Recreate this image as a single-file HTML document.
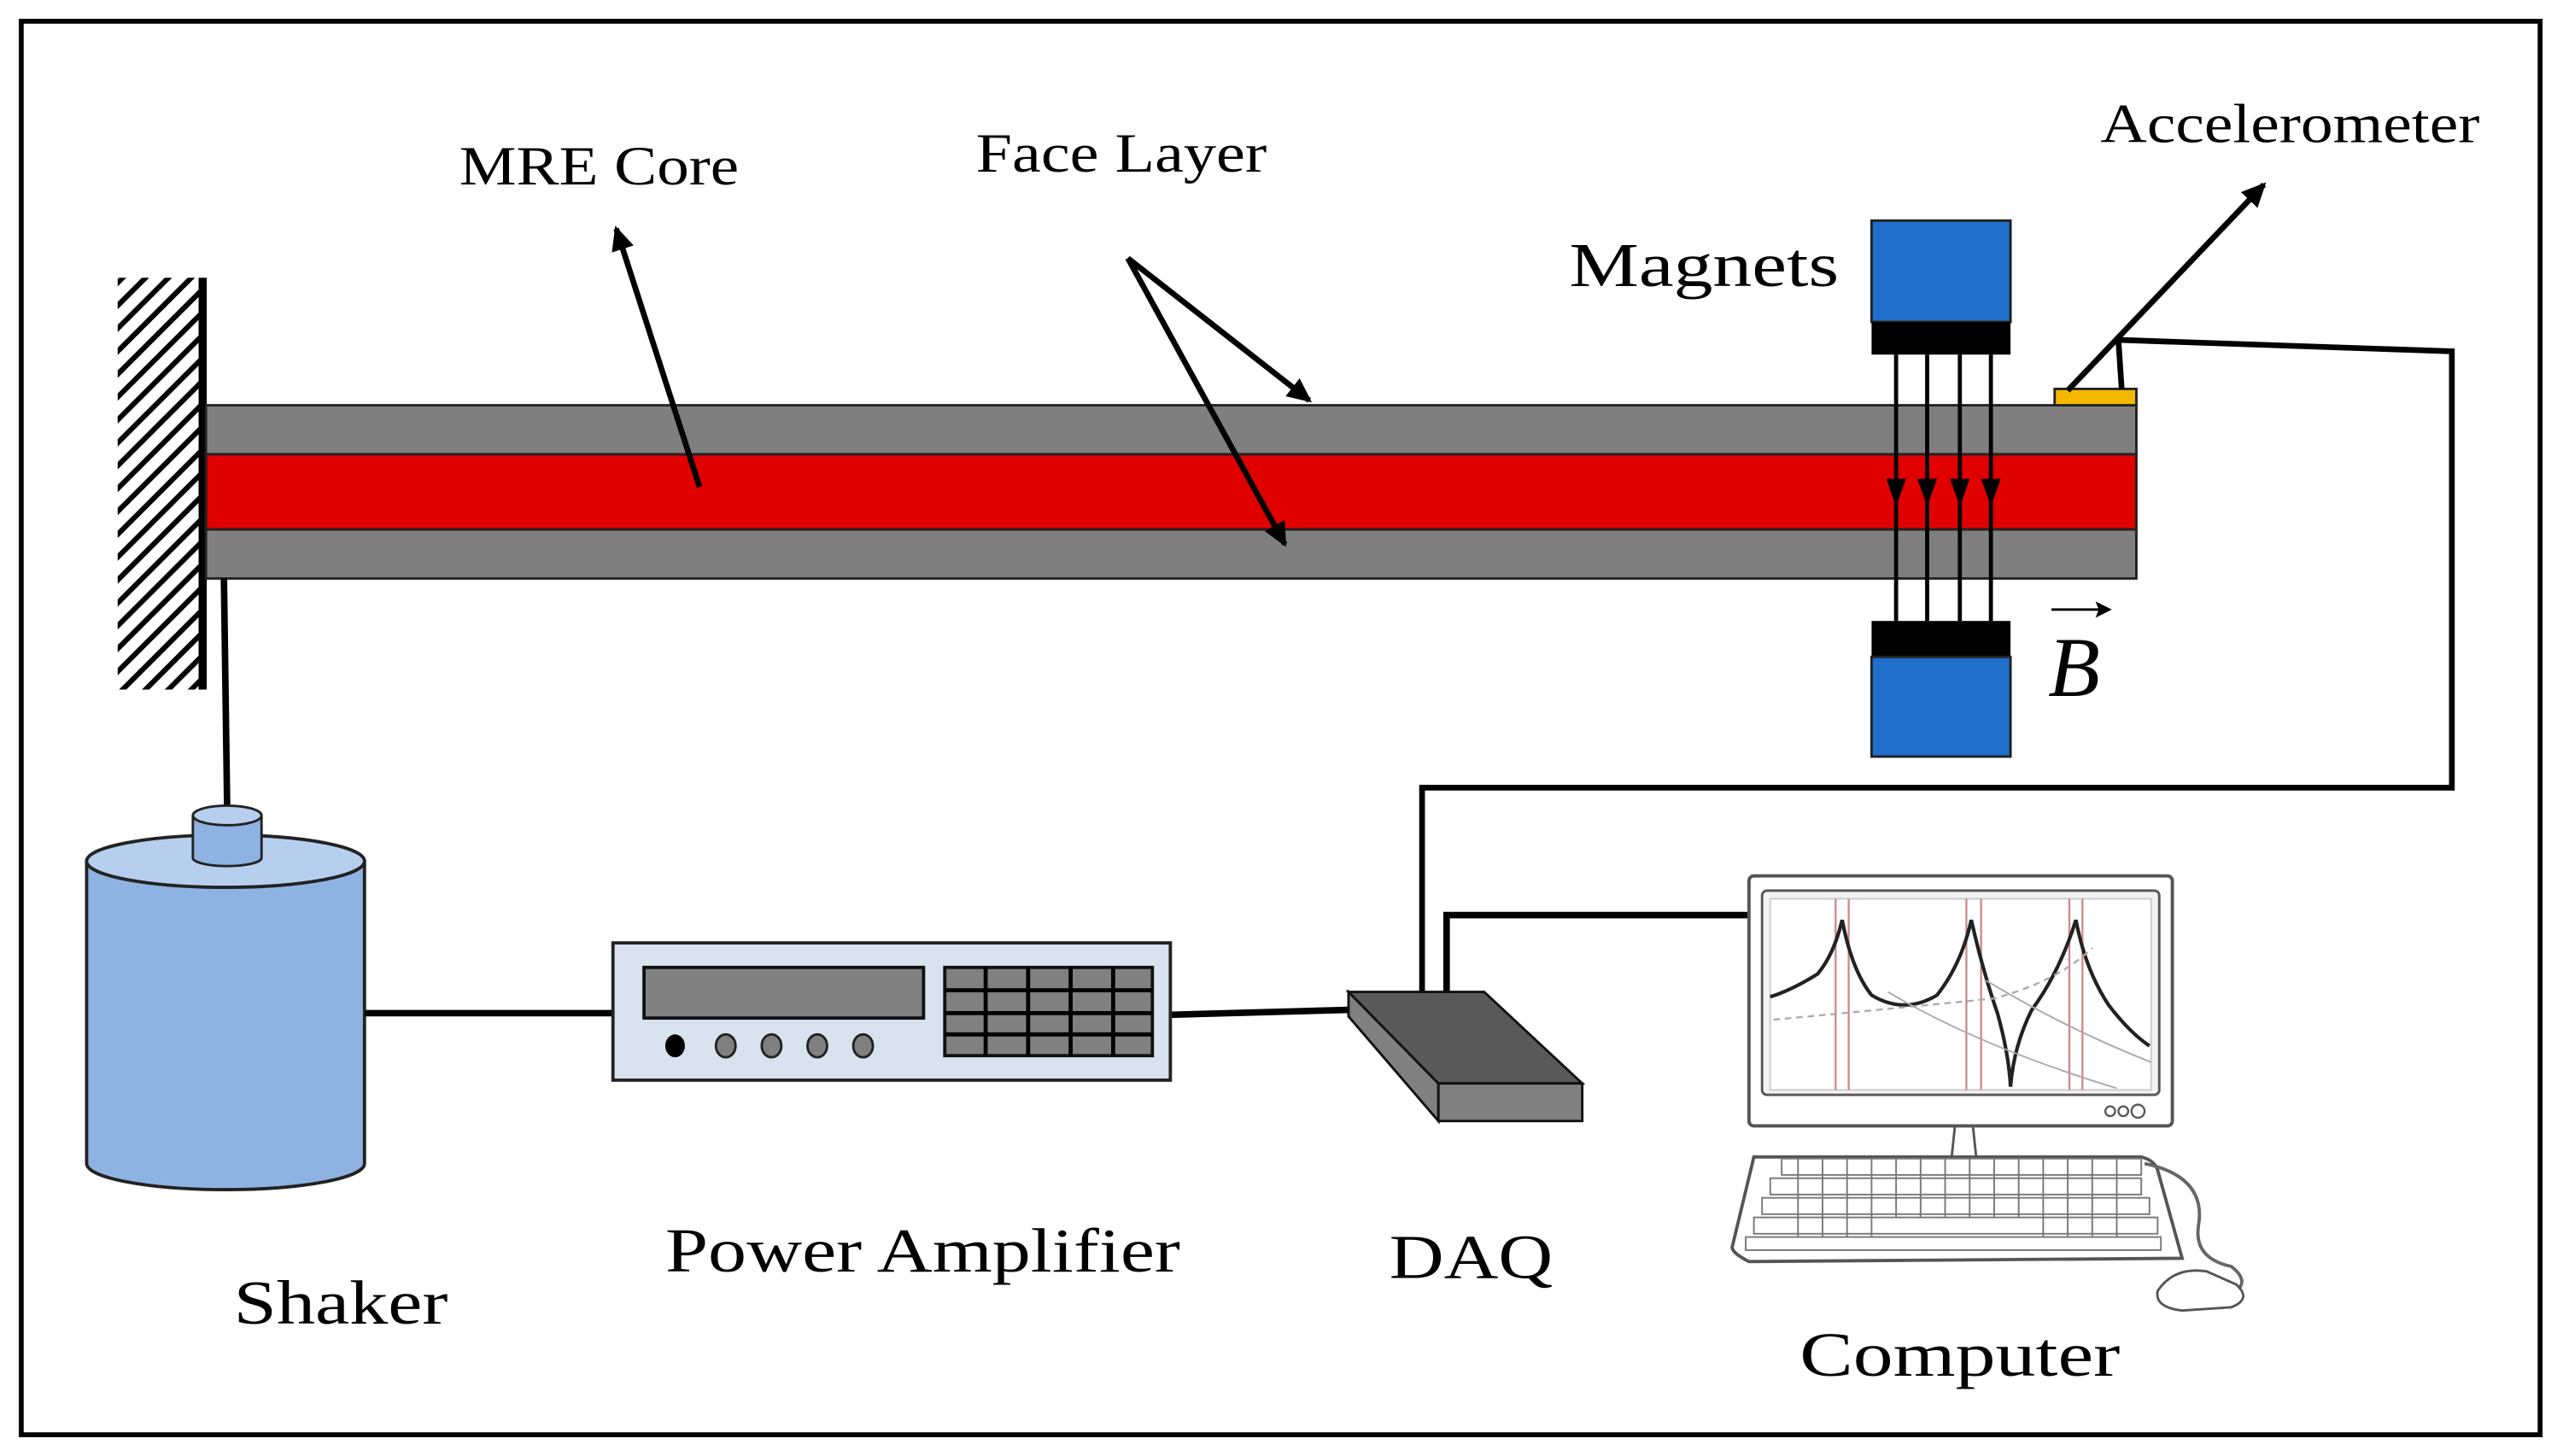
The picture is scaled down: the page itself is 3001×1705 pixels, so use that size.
<!DOCTYPE html>
<html><head><style>html,body{margin:0;padding:0;background:#fff}svg{display:block}</style></head>
<body>
<svg width="3001" height="1705" viewBox="0 0 1568 891" preserveAspectRatio="none" xmlns="http://www.w3.org/2000/svg" font-family="Liberation Serif, serif">
<defs>
<marker id="ah" markerWidth="10" markerHeight="10" refX="8" refY="5" orient="auto" markerUnits="userSpaceOnUse">
<path d="M0,0 L10,5 L0,10 L2,5 z" fill="#000"/></marker>
<marker id="ahs" markerWidth="16" markerHeight="16" refX="13" refY="8" orient="auto" markerUnits="userSpaceOnUse">
<path d="M0,1 L15,8 L0,15 z" fill="#000"/></marker>
<clipPath id="wall"><rect x="72" y="170" width="53" height="252"/></clipPath>
</defs>
<rect x="0" y="0" width="1568" height="891" fill="#fff"/>
<rect x="13" y="13" width="1541" height="865" fill="none" stroke="#000" stroke-width="3"/>

<!-- wall -->
<g clip-path="url(#wall)" stroke="#000" stroke-width="3.2">
<path d="M60,185 L130,115 M60,199 L130,129 M60,213 L130,143 M60,227 L130,157 M60,241 L130,171 M60,255 L130,185 M60,269 L130,199 M60,283 L130,213 M60,297 L130,227 M60,311 L130,241 M60,325 L130,255 M60,339 L130,269 M60,353 L130,283 M60,367 L130,297 M60,381 L130,311 M60,395 L130,325 M60,409 L130,339 M60,423 L130,353 M60,437 L130,367 M60,451 L130,381 M60,465 L130,395 M60,479 L130,409"/>
</g>
<line x1="124" y1="170" x2="124" y2="422" stroke="#000" stroke-width="5"/>

<!-- beam -->
<rect x="126" y="248" width="1181" height="30" fill="#7f7f7f" stroke="#222" stroke-width="1.5"/>
<rect x="126" y="278" width="1181" height="46" fill="#e00000" stroke="#222" stroke-width="1.5"/>
<rect x="126" y="324" width="1181" height="30" fill="#7f7f7f" stroke="#222" stroke-width="1.5"/>

<!-- magnets -->
<rect x="1145" y="135" width="85" height="62" fill="#1f6fcb" stroke="#222" stroke-width="1.5"/>
<rect x="1145" y="197" width="85" height="20" fill="#000"/>
<rect x="1145" y="380" width="85" height="22" fill="#000"/>
<rect x="1145" y="402" width="85" height="61" fill="#1f6fcb" stroke="#222" stroke-width="1.5"/>
<g stroke="#000" stroke-width="2.5">
<line x1="1160" y1="217" x2="1160" y2="380"/><line x1="1179" y1="217" x2="1179" y2="380"/>
<line x1="1199" y1="217" x2="1199" y2="380"/><line x1="1218" y1="217" x2="1218" y2="380"/>
</g>
<g fill="#000">
<path d="M1154,293 L1166,293 L1160,310z"/><path d="M1173,293 L1185,293 L1179,310z"/>
<path d="M1193,293 L1205,293 L1199,310z"/><path d="M1212,293 L1224,293 L1218,310z"/>
</g>

<!-- accelerometer -->
<rect x="1257" y="238" width="50" height="10" fill="#f5b800" stroke="#222" stroke-width="1.5"/>
<polyline points="1298,238 1296,208 1500,215 1500,482 870,482 870,607" fill="none" stroke="#000" stroke-width="3.5"/>
<line x1="1265" y1="239" x2="1385" y2="113" stroke="#000" stroke-width="3.5" marker-end="url(#ahs)"/>

<!-- arrows -->
<line x1="428" y1="298" x2="377" y2="140" stroke="#000" stroke-width="3.5" marker-end="url(#ahs)"/>
<line x1="690" y1="158" x2="801" y2="245" stroke="#000" stroke-width="3.5" marker-end="url(#ahs)"/>
<line x1="690" y1="158" x2="786" y2="333" stroke="#000" stroke-width="3.5" marker-end="url(#ahs)"/>

<!-- shaker -->
<line x1="137" y1="354" x2="139" y2="497" stroke="#000" stroke-width="4"/>
<path d="M53,527 L53,712 A85,16 0 0 0 223,712 L223,527 z" fill="#8eb3e3" stroke="#222" stroke-width="2"/>
<ellipse cx="138" cy="527" rx="85" ry="16" fill="#b7cfee" stroke="#222" stroke-width="2"/>
<path d="M118,500 L118,525 A21,5 0 0 0 160,525 L160,500z" fill="#8eb3e3" stroke="#222" stroke-width="1.5"/>
<ellipse cx="139" cy="499" rx="21" ry="6" fill="#b7cfee" stroke="#222" stroke-width="1.5"/>

<!-- wires -->
<line x1="223" y1="620" x2="375" y2="620" stroke="#000" stroke-width="4"/>
<line x1="716" y1="621" x2="825" y2="618" stroke="#000" stroke-width="4"/>
<polyline points="885,607 885,560 1070,560" fill="none" stroke="#000" stroke-width="4"/>

<!-- amplifier -->
<rect x="375" y="577" width="341" height="84" fill="#d9e3ef" stroke="#222" stroke-width="2"/>
<rect x="394" y="592" width="171" height="31" fill="#808080" stroke="#111" stroke-width="2"/>
<rect x="578" y="592" width="127" height="54" fill="#808080" stroke="#111" stroke-width="2"/>
<g stroke="#000" stroke-width="2.5">
<line x1="603" y1="592" x2="603" y2="646"/><line x1="629" y1="592" x2="629" y2="646"/>
<line x1="655" y1="592" x2="655" y2="646"/><line x1="681" y1="592" x2="681" y2="646"/>
<line x1="578" y1="606" x2="705" y2="606"/><line x1="578" y1="620" x2="705" y2="620"/><line x1="578" y1="633" x2="705" y2="633"/>
</g>
<ellipse cx="413" cy="640" rx="6" ry="7" fill="#000"/>
<g fill="#808080" stroke="#222" stroke-width="1.5">
<ellipse cx="444" cy="640" rx="6" ry="7"/><ellipse cx="472" cy="640" rx="6" ry="7"/>
<ellipse cx="500" cy="640" rx="6" ry="7"/><ellipse cx="528" cy="640" rx="6" ry="7"/></g>

<!-- DAQ -->
<path d="M825,607 L825,622 L880,686 L880,663 z" fill="#808080" stroke="#111" stroke-width="1.5"/>
<path d="M825,607 L908,607 L968,663 L880,663 z" fill="#595959" stroke="#111" stroke-width="1.5"/>
<rect x="880" y="663" width="88" height="23" fill="#808080" stroke="#111" stroke-width="1.5"/>

<!-- computer -->
<rect x="1070" y="536" width="259" height="153" rx="3" fill="#fff" stroke="#555" stroke-width="2"/>
<rect x="1078" y="545" width="243" height="125" rx="3" fill="#f2f2f2" stroke="#555" stroke-width="1.5"/>
<rect x="1083" y="550" width="233" height="117" fill="#fff" stroke="#ccc" stroke-width="1"/>
<g stroke="#c88" stroke-width="1.2">
<line x1="1123" y1="550" x2="1123" y2="667"/><line x1="1131" y1="550" x2="1131" y2="667"/>
<line x1="1203" y1="550" x2="1203" y2="667"/><line x1="1212" y1="550" x2="1212" y2="667"/>
<line x1="1266" y1="550" x2="1266" y2="667"/><line x1="1274" y1="550" x2="1274" y2="667"/>
</g>
<path d="M1083,610 Q1096,606 1112,596 Q1122,584 1127,563 Q1133,594 1145,609 Q1165,621 1185,609 Q1200,590 1206,563 Q1213,594 1222,620 Q1229,645 1230,665 Q1232,640 1243,618 Q1260,595 1270,563 Q1276,594 1290,615 Q1303,632 1315,640" fill="none" stroke="#222" stroke-width="2.2"/>
<path d="M1085,624 Q1150,618 1220,611 Q1260,600 1280,580" fill="none" stroke="#aaa" stroke-width="1.2" stroke-dasharray="4 3"/>
<path d="M1155,607 Q1210,640 1295,666 M1215,600 Q1265,630 1316,650" fill="none" stroke="#aaa" stroke-width="1"/>
<g fill="none" stroke="#555" stroke-width="1.2"><circle cx="1291" cy="680" r="3"/><circle cx="1299" cy="680" r="3"/><circle cx="1308" cy="680" r="4"/></g>
<path d="M1196,689 L1194,708 M1207,689 L1209,708" stroke="#555" stroke-width="1.5"/>
<path d="M1073,708 L1310,708 Q1318,710 1320,716 L1335,770 L1070,772 Q1058,766 1060,762 z" fill="#fff" stroke="#555" stroke-width="2"/>
<g fill="#fff" stroke="#777" stroke-width="1">
<rect x="1090" y="709" width="220" height="10"/><rect x="1083" y="721" width="227" height="10"/>
<rect x="1078" y="733" width="237" height="10"/><rect x="1073" y="745" width="247" height="10"/><rect x="1068" y="757" width="254" height="8"/>
</g>
<g stroke="#777" stroke-width="1">
<path d="M1100,709 v48 M1115,709 v48 M1130,709 v48 M1145,709 v48 M1160,709 v36 M1175,709 v36 M1190,709 v36 M1205,709 v36 M1220,709 v36 M1235,709 v36 M1250,709 v48 M1265,709 v48 M1280,709 v48 M1295,709 v48"/>
</g>
<path d="M1312,712 Q1350,720 1345,750 Q1342,770 1365,775 Q1378,785 1365,792" fill="none" stroke="#666" stroke-width="2"/>
<path d="M1320,790 Q1330,775 1350,778 L1368,786 Q1378,795 1365,800 L1335,802 Q1318,800 1320,790z" fill="#fff" stroke="#555" stroke-width="1.5"/>

<!-- labels -->
<g fill="#000" font-size="34">
<text x="281" y="113" textLength="171" lengthAdjust="spacingAndGlyphs">MRE Core</text>
<text x="597" y="105" textLength="178" lengthAdjust="spacingAndGlyphs">Face Layer</text>
<text x="1285" y="87" textLength="232" lengthAdjust="spacingAndGlyphs">Accelerometer</text>
<text x="960" y="175" font-size="38" textLength="165" lengthAdjust="spacingAndGlyphs">Magnets</text>
<text x="1253" y="426" font-size="52" font-style="italic">B</text>
<text x="143" y="810" font-size="38" textLength="131" lengthAdjust="spacingAndGlyphs">Shaker</text>
<text x="407" y="778" font-size="38" textLength="315" lengthAdjust="spacingAndGlyphs">Power Amplifier</text>
<text x="850" y="782" font-size="38" textLength="100" lengthAdjust="spacingAndGlyphs">DAQ</text>
<text x="1101" y="842" font-size="38" textLength="196" lengthAdjust="spacingAndGlyphs">Computer</text>
</g>
<line x1="1255" y1="373" x2="1290" y2="373" stroke="#000" stroke-width="1.5" marker-end="url(#ah)"/>
</svg>
</body></html>
